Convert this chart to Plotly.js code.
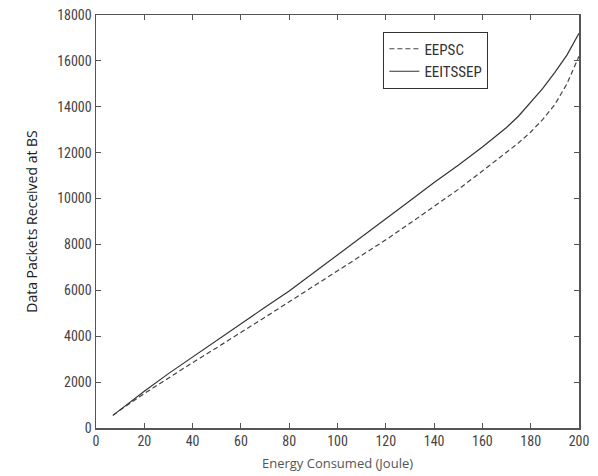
<!DOCTYPE html>
<html>
<head>
<meta charset="utf-8">
<script src="https://cdn.plot.ly/plotly-3.0.1.min.js"></script>
<style>html,body{margin:0;padding:0;background:#fff;}#chart{width:598px;height:476px;}</style>
</head>
<body>
<div id="chart"></div>
<script>
const energy = [7, 10, 20, 30, 40, 50, 60, 70, 80, 90, 100, 110, 120, 130, 140, 150, 160, 170, 175, 180, 185, 190, 195, 200];
const eepsc = [550, 780, 1500, 2180, 2850, 3500, 4150, 4830, 5500, 6180, 6850, 7520, 8200, 8920, 9650, 10400, 11200, 12000, 12430, 12900, 13450, 14100, 15000, 16200];
const eeitssep = [550, 800, 1600, 2370, 3100, 3820, 4550, 5260, 5970, 6750, 7540, 8330, 9120, 9900, 10700, 11450, 12250, 13100, 13600, 14200, 14800, 15500, 16250, 17200];
const xTicks = [0, 20, 40, 60, 80, 100, 120, 140, 160, 180, 200];
const yTicks = [0, 2000, 4000, 6000, 8000, 10000, 12000, 14000, 16000, 18000];

const condensed = "Liberation Sans Narrow, Roboto Condensed, DejaVu Sans Condensed, Liberation Sans";
const tickFont = {family: condensed, size: 14, color: "#444"};

const traces = [
  {x: energy, y: eepsc, name: "EEPSC", mode: "lines", type: "scatter", line: {color: "#444", width: 1.2, dash: "5px,3px"}},
  {x: energy, y: eeitssep, name: "EEITSSEP", mode: "lines", type: "scatter", line: {color: "#333", width: 1.2}}
];

const axisCommon = {
  showgrid: false, zeroline: false, showline: true, mirror: "allticks",
  linecolor: "#555", linewidth: 1.5, ticks: "inside", ticklen: 5, tickcolor: "#555",
  tickfont: tickFont
};

const layout = {
  width: 598, height: 476,
  margin: {l: 96, r: 19, t: 15, b: 48},
  paper_bgcolor: "#fff", plot_bgcolor: "#fff",
  showlegend: true,
  legend: {x: 0.595, y: 0.96, xanchor: "left", yanchor: "top",
    bgcolor: "#fff", bordercolor: "#333", borderwidth: 1,
    font: {family: condensed, size: 15, color: "#333"},
    tracegroupgap: 0, itemwidth: 30},
  xaxis: Object.assign({}, axisCommon, {
    range: [0, 200], tickvals: xTicks, ticktext: xTicks.map(String),
    title: {text: "Energy Consumed (Joule)", standoff: 10,
      font: {family: "Open Sans, Liberation Sans", size: 13, color: "#555"}}
  }),
  yaxis: Object.assign({}, axisCommon, {
    range: [0, 18000], tickvals: yTicks, ticktext: yTicks.map(String),
    title: {text: "Data Packets Received at BS", standoff: 16,
      font: {family: "Open Sans, Liberation Sans", size: 14, color: "#222"}}
  })
};

Plotly.newPlot("chart", traces, layout, {displayModeBar: false, staticPlot: true});
</script>
</body>
</html>
